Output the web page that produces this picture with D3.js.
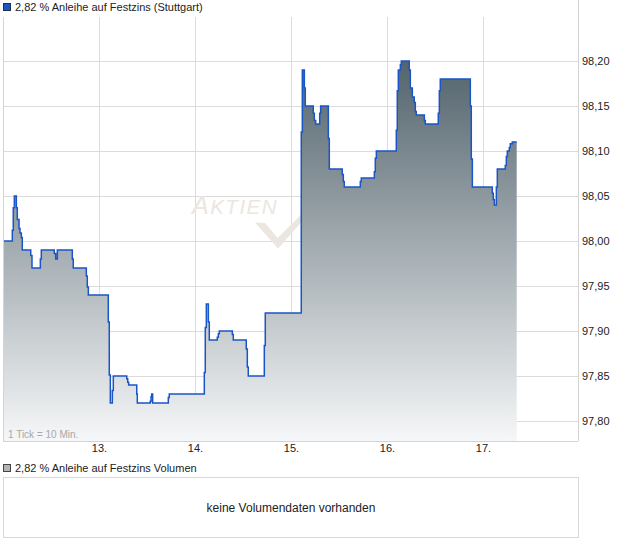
<!DOCTYPE html>
<html><head><meta charset="utf-8">
<script src="https://cdn.jsdelivr.net/npm/d3@7"></script>
<style>
html,body{margin:0;padding:0;background:#fff;}
svg{display:block;font-family:"Liberation Sans",Arial,sans-serif;}
</style></head>
<body>
<svg id="c" width="620" height="546"></svg>
<script>
// ---- data (time in fractional days of the month, price) ----
const times = [12.000,12.097,12.107,12.118,12.139,12.149,12.167,12.177,12.191,12.201,12.289,12.302,12.389,12.399,12.534,12.549,12.566,12.722,12.732,12.868,12.878,12.889,
13.097,13.107,13.118,13.139,13.149,13.289,13.299,13.309,13.393,13.399,13.534,13.542,13.549,13.559,13.722,13.732,
14.097,14.107,14.118,14.139,14.149,14.232,14.243,14.253,14.389,14.399,14.534,14.545,14.555,14.722,14.732,
15.107,15.118,15.139,15.149,15.232,15.243,15.257,15.299,15.309,15.389,15.399,15.534,15.545,15.555,15.722,15.732,15.868,15.878,15.889,
16.097,16.107,16.118,16.139,16.149,16.232,16.243,16.264,16.284,16.295,16.305,16.389,16.399,16.534,16.545,16.555,16.868,16.878,16.889,
17.097,17.107,17.118,17.139,17.149,17.232,17.243,17.253,17.274,17.284,17.305,17.351];
const prices = [98.000,98.012,98.037,98.050,98.037,98.024,98.014,98.009,98.004,97.990,97.984,97.970,97.980,97.990,97.986,97.980,97.990,97.980,97.970,97.961,97.949,97.940,
97.910,97.851,97.820,97.834,97.850,97.847,97.843,97.840,97.830,97.820,97.822,97.827,97.830,97.820,97.826,97.830,
97.854,97.904,97.930,97.910,97.890,97.893,97.897,97.900,97.896,97.890,97.880,97.860,97.850,97.884,97.920,
98.121,98.190,98.170,98.150,98.142,98.134,98.130,98.142,98.150,98.114,98.080,98.074,98.066,98.060,98.066,98.070,98.077,98.092,98.100,
98.123,98.167,98.190,98.196,98.200,98.190,98.170,98.160,98.154,98.144,98.140,98.134,98.130,98.142,98.167,98.180,
98.150,98.091,98.060,98.053,98.046,98.040,98.060,98.080,98.084,98.094,98.100,98.104,98.108,98.110,98.110];
const xTicks = [13,14,15,16,17];
const xTickLabels = ["13.","14.","15.","16.","17."];
const yTicks = [97.80,97.85,97.90,97.95,98.00,98.05,98.10,98.15,98.20];
const yTickLabels = ["97,80","97,85","97,90","97,95","98,00","98,05","98,10","98,15","98,20"];
const seriesName = "2,82 % Anleihe auf Festzins (Stuttgart)";
const volumeName = "2,82 % Anleihe auf Festzins Volumen";
const noVolumeText = "keine Volumendaten vorhanden";

const data = times.map((t,i)=>({t, v: prices[i]}));

const svg = d3.select("#c");
const L = 3, R = 578, T = 17, B = 441;
const x = d3.scaleLinear().domain([12,18]).range([3,579]);
const y = d3.scaleLinear().domain([97.80,98.20]).range([421,61]);

// gradient
const defs = svg.append("defs");
const g = defs.append("linearGradient").attr("id","ag")
  .attr("gradientUnits","userSpaceOnUse").attr("x1",0).attr("x2",0)
  .attr("y1",y(98.20)).attr("y2",B);
g.append("stop").attr("offset","0").attr("stop-color","#53646d");
g.append("stop").attr("offset","1").attr("stop-color","#f6f7f8");

// top legend
svg.append("rect").attr("x",3.5).attr("y",3.5).attr("width",7).attr("height",7)
  .attr("fill","#1f55c0").attr("stroke","#203050").attr("stroke-width",1);
svg.append("text").attr("x",15).attr("y",11).attr("font-size",11).attr("fill","#222").text(seriesName);

// grid
const grid = svg.append("g").attr("stroke","#dcdcdc").attr("stroke-width",1).attr("shape-rendering","crispEdges");
yTicks.forEach(v=>grid.append("line").attr("x1",L).attr("x2",R).attr("y1",Math.round(y(v))+0.5).attr("y2",Math.round(y(v))+0.5));
xTicks.forEach(v=>grid.append("line").attr("x1",Math.round(x(v))+0.5).attr("x2",Math.round(x(v))+0.5).attr("y1",T).attr("y2",B));

// watermark
const wm = svg.append("g").attr("fill","#ebe6e0");
wm.append("text").attr("x",192).attr("y",213.5).attr("font-size",25).attr("font-style","italic")
  .attr("font-family","'Liberation Sans',Arial,sans-serif").attr("letter-spacing",1.5)
  .html('A<tspan font-size="20.5">KTIEN</tspan>');
wm.append("path").attr("d","M255,222.5 L265,223 L277.5,238 L303,213 L306,217 L278,248.5 Z");

// area + line
const area = d3.area().x(d=>x(d.t)).y0(B).y1(d=>y(d.v)).curve(d3.curveStepAfter);
const line = d3.line().x(d=>x(d.t)).y(d=>y(d.v)).curve(d3.curveStepAfter);
svg.append("path").datum(data).attr("d",area).attr("fill","url(#ag)");
svg.append("path").datum(data).attr("d",line).attr("fill","none").attr("stroke","#1a55c6").attr("stroke-width",1.5);

// borders
const bd = svg.append("g").attr("stroke","#d4d4d4").attr("shape-rendering","crispEdges");
bd.append("line").attr("x1",L+0.5).attr("x2",L+0.5).attr("y1",T).attr("y2",B);
bd.append("line").attr("x1",R+0.5).attr("x2",R+0.5).attr("y1",0).attr("y2",B);
bd.append("line").attr("x1",L).attr("x2",R).attr("y1",B+0.5).attr("y2",B+0.5);

// axes
const yAxis = d3.axisRight(y).tickValues(yTicks).tickSize(0).tickPadding(4)
  .tickFormat((d,i)=>yTickLabels[i]);
const ya = svg.append("g").attr("transform",`translate(${R},0)`).call(yAxis);
ya.select(".domain").remove();
ya.selectAll("text").attr("font-size",11).attr("fill","#222").attr("font-family","'Liberation Sans',Arial,sans-serif");

const xAxis = d3.axisBottom(x).tickValues(xTicks).tickSize(0).tickPadding(3)
  .tickFormat((d,i)=>xTickLabels[i]);
const xa = svg.append("g").attr("transform",`translate(0,${B})`).call(xAxis);
xa.select(".domain").remove();
xa.selectAll("text").attr("font-size",11).attr("fill","#222").attr("font-family","'Liberation Sans',Arial,sans-serif");

svg.append("text").attr("x",8).attr("y",438).attr("font-size",10).attr("fill","#a8a8a8").text("1 Tick = 10 Min.");

// volume panel
svg.append("rect").attr("x",3.5).attr("y",464.5).attr("width",7).attr("height",7)
  .attr("fill","#b4b4b4").attr("stroke","#444").attr("stroke-width",1);
svg.append("text").attr("x",15).attr("y",472).attr("font-size",11).attr("fill","#222").text(volumeName);
svg.append("rect").attr("x",3.5).attr("y",477.5).attr("width",R-3).attr("height",60)
  .attr("fill","none").attr("stroke","#d8d8d8").attr("shape-rendering","crispEdges");
svg.append("text").attr("x",291).attr("y",512).attr("text-anchor","middle").attr("font-size",12).attr("fill","#222").text(noVolumeText);
</script>
</body></html>
